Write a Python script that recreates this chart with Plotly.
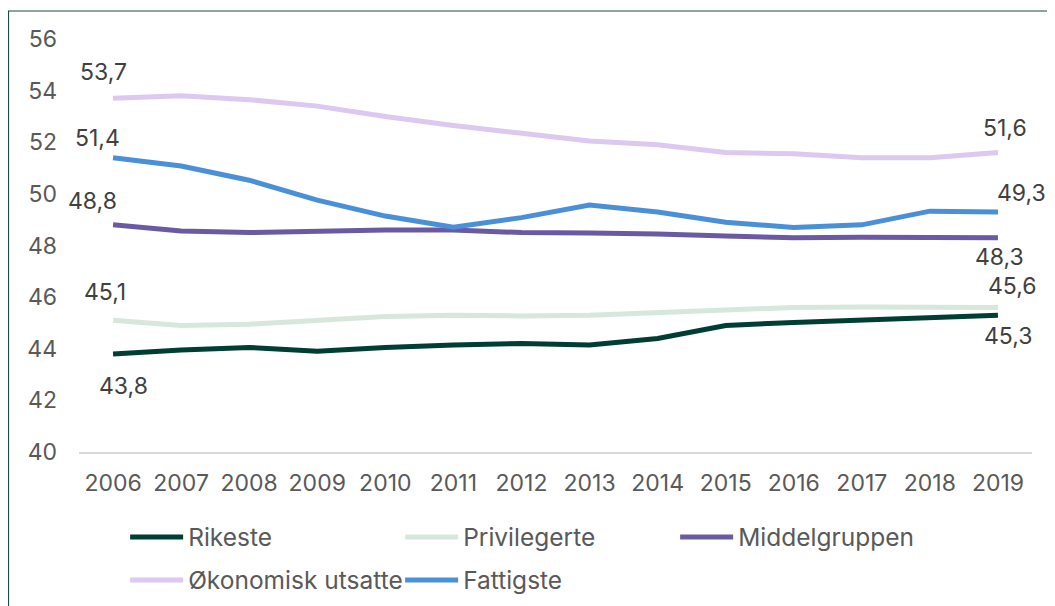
import plotly.graph_objects as go

years = [str(y) for y in range(2006, 2020)]
rikeste = [43.8, 43.95, 44.05, 43.9, 44.05, 44.15, 44.2, 44.15, 44.4, 44.9, 45.02, 45.1, 45.2, 45.3]
privilegerte = [45.1, 44.9, 44.95, 45.1, 45.25, 45.3, 45.27, 45.3, 45.4, 45.52, 45.6, 45.62, 45.6, 45.6]
middelgruppen = [48.8, 48.56, 48.5, 48.55, 48.6, 48.6, 48.5, 48.48, 48.45, 48.37, 48.3, 48.32, 48.3, 48.3]
okonomisk = [53.7, 53.8, 53.65, 53.4, 53.0, 52.65, 52.35, 52.05, 51.9, 51.6, 51.55, 51.4, 51.4, 51.6]
fattigste = [51.4, 51.08, 50.53, 49.76, 49.14, 48.71, 49.08, 49.57, 49.3, 48.9, 48.7, 48.8, 49.33, 49.3]

series = [
    ("Rikeste", rikeste, "#003d33", "legend"),
    ("Privilegerte", privilegerte, "#d5e8db", "legend"),
    ("Middelgruppen", middelgruppen, "#6b5aa3", "legend"),
    ("Økonomisk utsatte", okonomisk, "#dcc8f0", "legend2"),
    ("Fattigste", fattigste, "#4a90d9", "legend2"),
]

FONT = "Inter, Roboto, sans-serif"
TXT = "#404040"
TICK = "#595959"
FS = 23

fig = go.Figure()
for name, vals, col, lg in series:
    fig.add_trace(go.Scatter(x=list(range(len(years))), y=vals, name=name, mode="lines",
                             line=dict(color=col, width=5), legend=lg))

def fmt(v):
    return f"{v:.1f}".replace(".", ",")

# (series values, start shift (dx,dy), end shift (dx,dy))
label_shifts = [
    (rikeste, (10, -32), (10, -21)),
    (privilegerte, (-8, 28), (15, 21)),
    (middelgruppen, (-21, 24), (2, -19)),
    (okonomisk, (-10, 26), (7, 25)),
    (fattigste, (-16, 20), (24, 19)),
]
for vals, s0, s1 in label_shifts:
    for idx, sh in ((0, s0), (len(vals) - 1, s1)):
        fig.add_annotation(x=idx, y=vals[idx], text=fmt(vals[idx]),
                           showarrow=False, xshift=sh[0], yshift=sh[1],
                           font=dict(family=FONT, size=FS, color=TXT))

# outer frame (page has an 8px body margin, all positions relative to plot area)
fig.add_shape(type="rect", xref="paper", yref="paper",
              x0=(8.5 - 79) / 953, x1=(1070 - 79) / 953,
              y0=(452 - 640) / 413, y1=(452 - 11) / 413,
              line=dict(color="#1d4a45", width=1.2), fillcolor="rgba(0,0,0,0)",
              layer="below")

legend_common = dict(orientation="h", x=0.0484, xanchor="left", yanchor="middle",
                     entrywidth=207, entrywidthmode="pixels",
                     font=dict(family=FONT, size=24.5, color=TICK), itemwidth=53,
                     bgcolor="rgba(0,0,0,0)")

fig.update_layout(
    width=1047, height=598,
    margin=dict(l=71, r=23, t=31, b=154, autoexpand=False),
    paper_bgcolor="white", plot_bgcolor="white",
    font=dict(family=FONT, size=FS, color=TXT),
    xaxis=dict(range=[-0.5, 13.5], showgrid=False, zeroline=False,
               tickmode="array", tickvals=list(range(len(years))), ticktext=years,
               showline=True, linecolor="#d9d9d9", linewidth=1.5, automargin=False,
               ticks="", tickfont=dict(size=FS, color=TICK), ticklabelstandoff=10),
    yaxis=dict(range=[40, 56], dtick=2, showgrid=False, zeroline=False, automargin=False,
               showline=False, tickfont=dict(size=FS, color=TICK),
               ticklabelstandoff=21),
    legend=dict(y=(452 - 537) / 413, **legend_common),
    legend2=dict(y=(452 - 580) / 413, **legend_common),
    showlegend=True,
)

fig.write_html("out.html")
